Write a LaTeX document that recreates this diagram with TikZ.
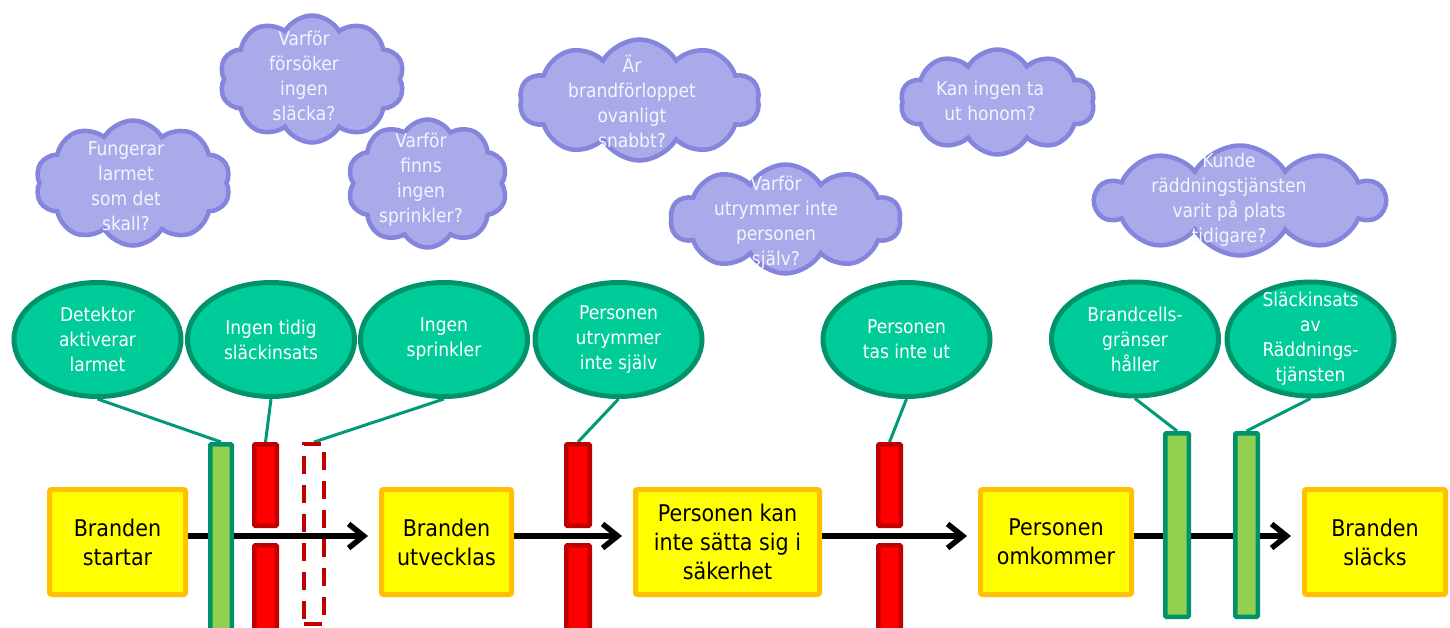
\documentclass[tikz,border=0pt]{standalone}
\usepackage{fontspec}
\setmainfont{DejaVu Sans Condensed}
\usetikzlibrary{shapes.geometric,shapes.symbols,arrows.meta}
\definecolor{boxfill}{HTML}{FFFF00}
\definecolor{boxline}{HTML}{FFC000}
\definecolor{cloudfill}{HTML}{AAAAEA}
\definecolor{cloudline}{HTML}{8585DD}
\definecolor{cloudtext}{HTML}{F4F4FF}
\definecolor{ellfill}{HTML}{00CC99}
\definecolor{ellline}{HTML}{00926B}
\definecolor{conline}{HTML}{00997A}
\definecolor{bargreen}{HTML}{92D050}
\definecolor{barred}{HTML}{FF0000}
\definecolor{barredline}{HTML}{C00000}
\pgfdeclarelayer{background}
\pgfsetlayers{background,main}
\tikzset{
  stepbox/.style={draw=boxline, fill=boxfill, line width=5pt, align=center,
    font=\fontsize{23}{29}\selectfont, inner sep=0pt, rounded corners=2pt,
    minimum height=105pt},
  bubble/.style={ellipse, draw=ellline, fill=ellfill, line width=5pt, inner sep=0pt,
    minimum width=167pt, minimum height=114pt},
  btext/.style={align=center, text=white, font=\fontsize{19}{25}\selectfont, inner sep=0pt},
  question/.style={cloud, cloud puffs=10, cloud puff arc=120, cloud ignores aspect,
    draw=cloudline, fill=cloudfill, line width=4.5pt, inner sep=0pt},
  qtext/.style={align=center, text=cloudtext, font=\fontsize{19}{25}\selectfont, inner sep=0pt},
  gbar/.style={draw=ellline, fill=bargreen, line width=4.5pt, inner sep=0pt, rounded corners=1pt},
  rbar/.style={draw=barredline, fill=barred, line width=4.5pt, inner sep=0pt, rounded corners=1pt},
  dbar/.style={draw=barredline, line width=4pt, dash pattern=on 18pt off 11pt, inner sep=0pt},
  conn/.style={draw=conline, line width=3pt},
  flow/.style={line width=5.5pt, -{Straight Barb[length=15pt,width=24pt]}, shorten >=11pt}
}
\begin{document}
\begin{tikzpicture}[x=1pt,y=-1pt]
\useasboundingbox (0,0) rectangle (1450,628);
\clip (0,0) rectangle (1450,628);

% clouds
\node[question, minimum width=195pt, minimum height=125pt] (c1) at (133,183) {};
\node[qtext] (t1) at (126,186) {Fungerar\\larmet\\som det\\skall?};
\node[question, minimum width=185pt, minimum height=127pt] (c2) at (312,79) {};
\node[qtext] (t2) at (304,76) {Varför\\försöker\\ingen\\släcka?};
\node[question, minimum width=160pt, minimum height=128pt] (c3) at (427.5,183.5) {};
\node[qtext] (t3) at (421,180) {Varför\\finns\\ingen\\sprinkler?};
\node[question, minimum width=240pt, minimum height=121pt] (c4) at (639.5,100) {};
\node[qtext] (t4) at (632,101) {Är\\brandförloppet\\ovanligt\\snabbt?};
\node[question, minimum width=194pt, minimum height=105pt] (c5) at (997.5,102) {};
\node[qtext] (t5) at (990,100.5) {Kan ingen ta\\ut honom?};
\node[question, minimum width=230pt, minimum height=109pt] (c6) at (785.5,219) {};
\node[qtext] (t6) at (776,222.5) {Varför\\utrymmer inte\\personen\\själv?};
\node[question, minimum width=289pt, minimum height=110pt] (c7) at (1240,200.5) {};
\node[qtext] (t7) at (1229,199.5) {Kunde\\räddningstjänsten\\varit på plats\\tidigare?};

% boxes
\node[stepbox, minimum width=136pt] (b1) at (117.5,542) {Branden\\startar};
\node[stepbox, minimum width=130pt] (b2) at (446.5,542) {Branden\\utvecklas};
\node[stepbox, minimum width=184pt] (b3) at (727.5,542) {Personen kan\\inte sätta sig i\\säkerhet};
\node[stepbox, minimum width=151pt] (b4) at (1056,542) {Personen\\omkommer};
\node[stepbox, minimum width=141pt] (b5) at (1375,542) {Branden\\släcks};

% bars
\node[gbar, minimum width=21.5pt, minimum height=203.5pt] (g1) at (221,546) {};
\node[rbar, minimum width=22.5pt, minimum height=81.5pt] (r1) at (265.5,485) {};
\node[rbar, minimum width=22.5pt, minimum height=102.5pt] (r1b) at (265.5,596.5) {};
\node[dbar, minimum width=20pt, minimum height=180pt] (d1) at (314,534) {};
\node[rbar, minimum width=23.5pt, minimum height=81.5pt] (r2) at (578,485) {};
\node[rbar, minimum width=23.5pt, minimum height=102.5pt] (r2b) at (578,596.5) {};
\node[rbar, minimum width=22.5pt, minimum height=81.5pt] (r3) at (889.5,485) {};
\node[rbar, minimum width=22.5pt, minimum height=102.5pt] (r3b) at (889.5,596.5) {};
\node[gbar, minimum width=23.5pt, minimum height=183.5pt] (g2) at (1177,525) {};
\node[gbar, minimum width=22.5pt, minimum height=183.5pt] (g3) at (1246.5,525) {};

% bubbles
\node[bubble] (e1) at (97.5,339.5) {};
\node[btext] (l1) at (e1) {Detektor\\aktiverar\\larmet};
\node[bubble] (e2) at (271,339.5) {};
\node[btext] (l2) at (e2) {Ingen tidig\\släckinsats};
\node[bubble] (e3) at (444,339.5) {};
\node[btext] (l3) at (e3) {Ingen\\sprinkler};
\node[bubble] (e4) at (618.5,339.5) {};
\node[btext] (l4) at (e4) {Personen\\utrymmer\\inte själv};
\node[bubble] (e5) at (906.5,339.5) {};
\node[btext] (l5) at (e5) {Personen\\tas inte ut};
\node[bubble] (e6) at (1135,339) {};
\node[btext] (l6) at (e6) {Brandcells-\\gränser\\håller};
\node[bubble] (e7) at (1310.5,339) {};
\node[btext] (l7) at (e7) {Släckinsats\\av\\Räddnings-\\tjänsten};

\begin{pgfonlayer}{background}
  % flow arrows
  \draw[flow] ([yshift=6pt]b1.east) -- ([yshift=6pt]b2.west);
  \draw[flow] ([yshift=6pt]b2.east) -- ([yshift=6pt]b3.west);
  \draw[flow] ([yshift=6pt]b3.east) -- ([yshift=6pt]b4.west);
  \draw[flow] ([yshift=6pt]b4.east) -- ([yshift=6pt]b5.west);
  % connectors
  \draw[conn] (e1.south) -- (g1.north);
  \draw[conn] (e2.south) -- (r1.north);
  \draw[conn] (e3.south) -- (d1.north);
  \draw[conn] (e4.south) -- (r2.north);
  \draw[conn] (e5.south) -- (r3.north);
  \draw[conn] (e6.south) -- (g2.north);
  \draw[conn] (e7.south) -- (g3.north);
\end{pgfonlayer}
\end{tikzpicture}
\end{document}
